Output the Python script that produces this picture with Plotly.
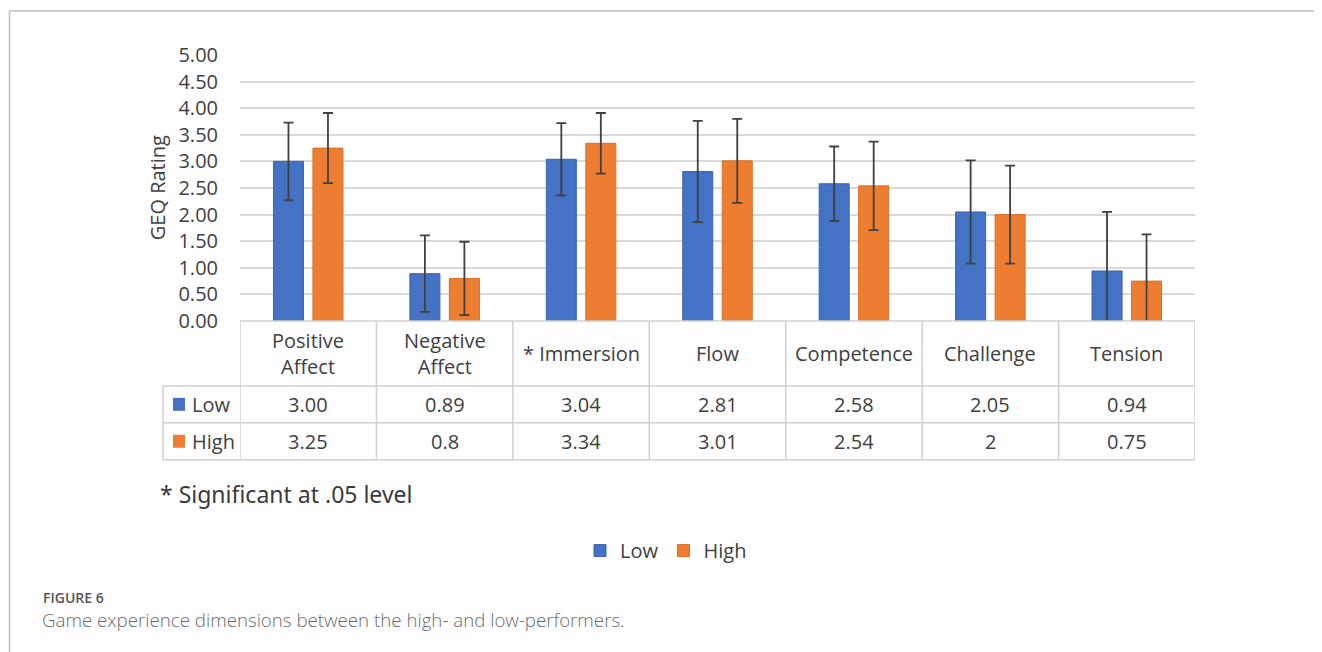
import plotly.graph_objects as go

categories = ["Positive Affect", "Negative Affect", "Immersion", "Flow", "Competence", "Challenge", "Tension"]
header_labels = ["Positive<br>Affect", "Negative<br>Affect", "* Immersion", "Flow", "Competence", "Challenge", "Tension"]
low_values = [3.00, 0.89, 3.04, 2.81, 2.58, 2.05, 0.94]
high_values = [3.25, 0.8, 3.34, 3.01, 2.54, 2, 0.75]
low_sd = [0.73, 0.72, 0.68, 0.95, 0.70, 0.97, 1.11]
high_sd = [0.66, 0.69, 0.57, 0.79, 0.83, 0.92, 0.88]
y_ticks = [0, 0.5, 1, 1.5, 2, 2.5, 3, 3.5, 4, 4.5, 5]

BLUE = "#4472C4"
ORANGE = "#ED7D31"
TXT = "#404040"
GRID = "#d9d9d9"
BORDER = "#d0d0d0"

# the page body has an 8px margin; figure is sized so that screen coords match
OFF = 8
W, H = 1322 - OFF, 652 - OFF
# plot area in screen pixels
L, R, T, B = 240, 1195, 54.5, 321


def px(x):
    return (x - L) / (R - L)


def py(y):
    return (B - y) / (B - T)


fig = go.Figure()
fig.add_trace(go.Bar(
    name="Low", x=categories, y=low_values,
    marker=dict(color=BLUE, line=dict(color="#3a64b0", width=1)),
    error_y=dict(type="data", array=low_sd, color="#404040", thickness=1.8, width=5),
))
fig.add_trace(go.Bar(
    name="High", x=categories, y=high_values,
    marker=dict(color=ORANGE, line=dict(color="#d96f28", width=1)),
    error_y=dict(type="data", array=high_sd, color="#404040", thickness=1.8, width=5),
))

shapes = []
line_style = dict(color=BORDER, width=1.5)
# outer page frame
shapes.append(dict(type="line", xref="paper", yref="paper", x0=px(9.5), x1=px(1330), y0=py(10.5), y1=py(10.5),
                   line=dict(color="#bdbdbd", width=1.5)))
shapes.append(dict(type="line", xref="paper", yref="paper", x0=px(9.5), x1=px(9.5), y0=py(10.5), y1=py(660),
                   line=dict(color="#bdbdbd", width=1.5)))
# table horizontal lines
shapes.append(dict(type="line", xref="paper", yref="paper", x0=0, x1=1, y0=0, y1=0, line=line_style))
for yy in [386, 423, 460]:
    shapes.append(dict(type="line", xref="paper", yref="paper", x0=px(163), x1=1, y0=py(yy), y1=py(yy), line=line_style))
# table vertical lines at category boundaries
n = len(categories)
for k in range(n + 1):
    xb = k - 0.5
    shapes.append(dict(type="line", xref="x", yref="paper", x0=xb, x1=xb, y0=0, y1=py(460), line=line_style))
shapes.append(dict(type="line", xref="paper", yref="paper", x0=px(163), x1=px(163), y0=py(386), y1=py(460), line=line_style))
# legend-key squares in table
for yc, col in [(404.5, BLUE), (441.5, ORANGE)]:
    shapes.append(dict(type="rect", xref="paper", yref="paper", x0=px(173), x1=px(185), y0=py(yc - 6.5), y1=py(yc + 6.5),
                       fillcolor=col, line=dict(width=0)))

annotations = []
font_tbl = dict(family="Open Sans", size=20, color=TXT)
for i, lab in enumerate(header_labels):
    annotations.append(dict(x=i, xref="x", y=py(353.5), yref="paper", text=lab, showarrow=False,
                            font=font_tbl, xanchor="center", yanchor="middle"))
    annotations.append(dict(x=i, xref="x", y=py(404.5), yref="paper", text="{:.2f}".format(low_values[i]),
                            showarrow=False, font=font_tbl, xanchor="center", yanchor="middle"))
    annotations.append(dict(x=i, xref="x", y=py(441.5), yref="paper", text="{:g}".format(high_values[i]),
                            showarrow=False, font=font_tbl, xanchor="center", yanchor="middle"))
annotations.append(dict(x=px(190), xref="paper", y=py(404.5), yref="paper", text="Low", showarrow=False,
                        font=font_tbl, xanchor="left", yanchor="middle"))
annotations.append(dict(x=px(190), xref="paper", y=py(441.5), yref="paper", text="High", showarrow=False,
                        font=font_tbl, xanchor="left", yanchor="middle"))
# y-axis title
annotations.append(dict(x=px(157), xref="paper", y=py(188), yref="paper", text="GEQ Rating", textangle=-90,
                        showarrow=False, font=font_tbl, xanchor="center", yanchor="middle"))
# note
annotations.append(dict(x=px(158), xref="paper", y=py(494), yref="paper", text="* Significant at .05 level",
                        showarrow=False, font=dict(family="Liberation Sans Narrow, Noto Sans", size=23, color="#3a3a3a"),
                        xanchor="left", yanchor="middle"))
# caption
annotations.append(dict(x=px(41), xref="paper", y=py(598), yref="paper", text="FIGURE 6",
                        showarrow=False, font=dict(family="Open Sans", size=14, color="#555555", weight=600),
                        xanchor="left", yanchor="middle"))
annotations.append(dict(x=px(40), xref="paper", y=py(620), yref="paper",
                        text="Game experience dimensions between the high- and low-performers.",
                        showarrow=False, font=dict(family="Open Sans", size=18.7, color="#6b6b6b", weight=300),
                        xanchor="left", yanchor="middle"))

fig.update_layout(
    width=W, height=H,
    margin=dict(l=L - OFF, r=W - (R - OFF), t=T - OFF, b=H - (B - OFF), autoexpand=False),
    paper_bgcolor="white", plot_bgcolor="white",
    barmode="group", bargap=0.421, bargroupgap=0.24,
    showlegend=True,
    legend=dict(orientation="h", x=px(666), xanchor="center", y=py(551), yanchor="middle",
                font=dict(family="Open Sans", size=20, color=TXT), itemwidth=30, tracegroupgap=0),
    shapes=shapes, annotations=annotations,
    font=dict(family="Open Sans", color=TXT),
)
fig.update_xaxes(showticklabels=False, showgrid=False, zeroline=False, showline=False, ticks="",
                 range=[-0.5, n - 0.5])
fig.update_yaxes(range=[0, 5], tickvals=y_ticks, tickformat=".2f", showgrid=True, gridcolor=GRID, gridwidth=1.5,
                 zeroline=False, showline=False, ticks="", ticklabelstandoff=21,
                 tickfont=dict(family="Open Sans", size=20, color=TXT))

fig.write_html("out.html")
